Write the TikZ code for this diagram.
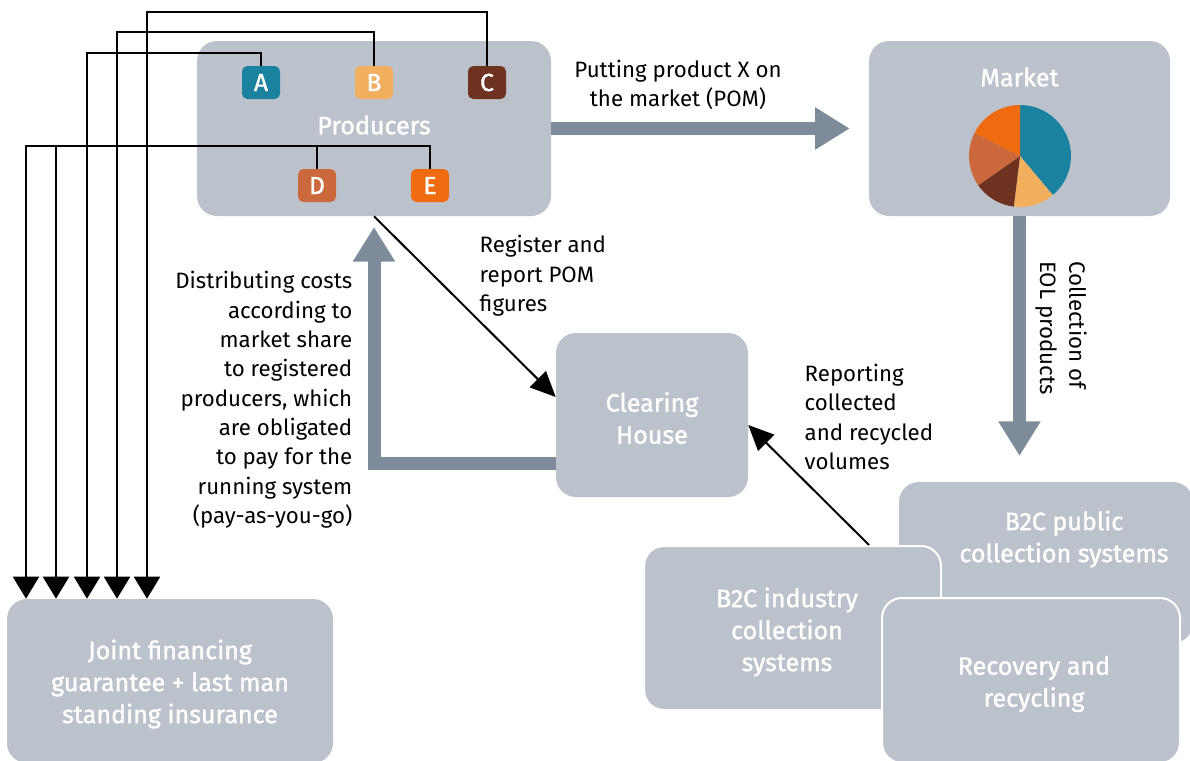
\documentclass[tikz,border=0pt]{standalone}
\usepackage{fontspec}
\setmainfont{Fira Sans}
\newfontfamily\labfont{Fira Sans}[FakeBold=1.3]
\usetikzlibrary{arrows.meta,fit}
\definecolor{boxgray}{HTML}{BCC2CC}
\definecolor{arrgray}{HTML}{7E8B9B}
\definecolor{colA}{HTML}{1A829F}
\definecolor{colB}{HTML}{F2AF5E}
\definecolor{colC}{HTML}{6E3320}
\definecolor{colD}{HTML}{CC693C}
\definecolor{colE}{HTML}{EE6C0F}
\begin{document}
\begin{tikzpicture}[x=0.75pt,y=-0.75pt,
 box/.style={fill=boxgray, rounded corners=15pt, inner sep=0pt},
 wbox/.style={box, draw=white, line width=1.5pt},
 lab/.style={text=white, font=\labfont\fontsize{18.8}{24}\selectfont, align=center},
 txt/.style={font=\fontsize{16.7}{22}\selectfont},
 lettbox/.style={fill=#1, rounded corners=4pt, minimum width=28.5pt, minimum height=24.75pt, inner sep=0pt, text=white, font=\labfont\fontsize{18.5}{20}\selectfont},
 conn/.style={line width=1.5pt, -{Triangle[width=19.5pt,length=16.5pt]}},
 thinarrow/.style={line width=1.5pt, -{Triangle[width=17pt,length=19pt]}},
 fatarrow/.style={draw=arrgray, line width=9.75pt, line join=miter, -{Triangle[width=30pt,length=26pt]}},
]
\useasboundingbox (0,0) rectangle (1190,761);

% boxes
\node[box, fit={(197,41) (551,216)}] (prod) {};
\node[lab] at (374,125) {Producers};
\node[lettbox=colA] (A) at (261,82.5) {A};
\node[lettbox=colB] (B) at (374,82.5) {B};
\node[lettbox=colC] (C) at (487,82.5) {C};
\node[lettbox=colD] (D) at (317,185.5) {D};
\node[lettbox=colE] (E) at (430,185.5) {E};

\node[box, fit={(869,41) (1170,216)}] (market) {};
\node[lab] at (1019.5,77) {Market};
\coordinate (pc) at (1020,156);
\fill[colA] (pc) -- ++(90:38.25pt) arc[start angle=90, end angle=-50, radius=38.25pt] -- cycle;
\fill[colB] (pc) -- ++(-50:38.25pt) arc[start angle=-50, end angle=-97, radius=38.25pt] -- cycle;
\fill[colC] (pc) -- ++(-97:38.25pt) arc[start angle=-97, end angle=-145, radius=38.25pt] -- cycle;
\fill[colD] (pc) -- ++(-145:38.25pt) arc[start angle=-145, end angle=-207, radius=38.25pt] -- cycle;
\fill[colE] (pc) -- ++(-207:38.25pt) arc[start angle=-207, end angle=-270, radius=38.25pt] -- cycle;

\node[box, fit={(556,333) (748,497)}] (clear) {};
\node[lab] at (652,418) {Clearing\\House};

\node[box, fit={(7,599) (333,763)}] (joint) {};
\node[lab] at (170,684) {Joint financing\\guarantee + last man\\standing insurance};

\node[box, fit={(899,482) (1193,643)}] (public) {};
\node[lab] at (1064,539) {B2C public\\collection systems};
\node[wbox, fit={(644,546) (941,710)}] (industry) {};
\node[lab] at (787,632) {B2C industry\\collection\\systems};
\node[wbox, fit={(882,598) (1180,763)}] (recovery) {};
\node[lab] at (1034,684) {Recovery and\\recycling};

% connectors producers -> joint
\draw[conn] (A.north) |- (87,53) -- (87,0 |- joint.north);
\draw[conn] (B.north) |- (117,32) -- (117,0 |- joint.north);
\draw[conn] (C.north) |- (147,12) -- (147,0 |- joint.north);
\draw[conn] (E.north) |- (26,146) -- (26,0 |- joint.north);
\draw[conn] (D.north) |- (56,146) -- (56,0 |- joint.north);

% fat arrows
\draw[fatarrow] (prod.east) -- ([xshift=-14.25pt]market.west);
\coordinate (eolend) at (1019.5,456);
\draw[fatarrow] (market.south) -- (eolend);
\draw[fatarrow] (clear.west |- 0,463) -| (prod.south |- 0,227);

% thin arrows
\draw[thinarrow] (prod.south) -- (clear.west |- 0,397);
\draw[thinarrow] (869,0 |- industry.north) -- (clear.east |- 0,425);

% texts
\node[txt, align=center] at (678,85) {Putting product X on\\the market (POM)};
\node[txt, align=right, anchor=east] at (357,400) {Distributing costs\\according to\\market share\\to registered\\producers, which\\are obligated\\to pay for the\\running system\\(pay-as-you-go)};
\node[txt, align=left, anchor=west] at (475,276) {Register and\\report POM\\figures};
\node[txt, align=left, anchor=west] at (800,417) {Reporting\\collected\\and recycled\\volumes};
\node[txt, align=left, rotate=-90] at (1061,328) {Collection of\\EOL products};
\end{tikzpicture}
\end{document}
